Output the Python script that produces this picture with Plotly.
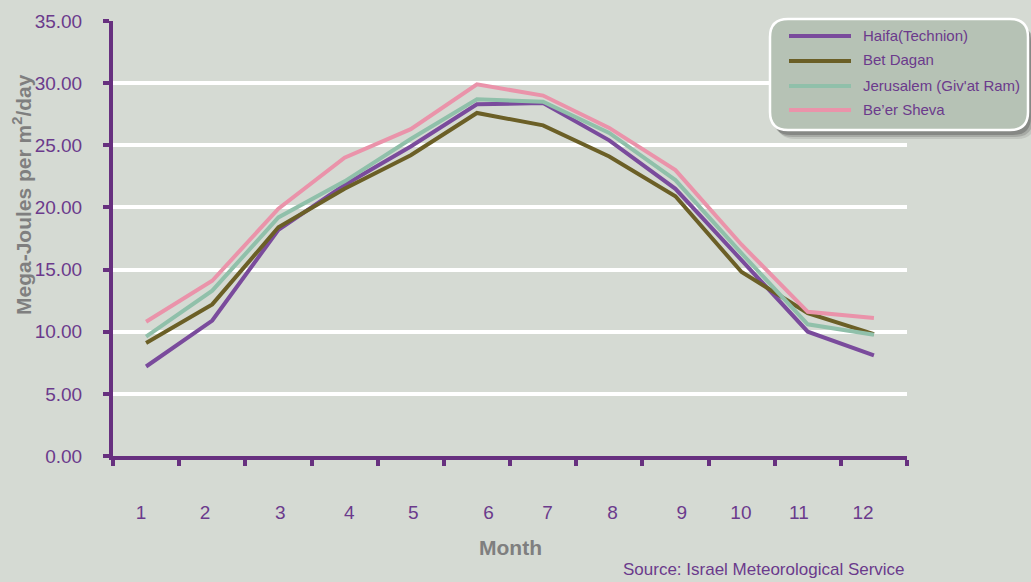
import plotly.graph_objects as go

months = list(range(1, 13))
month_labels = [str(m) for m in months]
series_names = ["Haifa(Technion)", "Bet Dagan", "Jerusalem (Giv'at Ram)", "Be\u2019er Sheva"]
haifa = [7.2, 10.9, 18.2, 21.8, 24.9, 28.3, 28.4, 25.4, 21.5, 15.7, 10.0, 8.1]
bet_dagan = [9.1, 12.2, 18.4, 21.5, 24.2, 27.6, 26.6, 24.1, 20.9, 14.8, 11.5, 9.8]
jerusalem = [9.6, 13.3, 19.2, 22.1, 25.5, 28.7, 28.5, 26.0, 22.2, 16.3, 10.6, 9.75]
beer_sheva = [10.8, 14.1, 19.9, 24.0, 26.3, 29.9, 29.0, 26.4, 23.0, 17.0, 11.6, 11.1]
series_values = [haifa, bet_dagan, jerusalem, beer_sheva]
colors = ["#7a4b9c", "#6b5f26", "#90c0aa", "#ea93aa"]
y_ticks = [0, 5, 10, 15, 20, 25, 30, 35]
# month tick labels sit slightly off the category centres in the original
label_pos = [0.924, 1.892, 3.027, 4.071, 5.04, 6.175, 7.068, 8.05, 9.096, 9.99, 10.866, 11.835]

W, H = 1031, 582
L, R, T, B = 113, 124, 21, 126
PW, PH = W - L - R, H - T - B
BG = "#d5dad3"
PURPLE = "#67307f"
TXT_PURPLE = "#6b3a8c"
GRAY = "#7f7f7f"
SANS = "Liberation Sans, Arial, sans-serif"


def px(x):
    return (x - L) / PW


def py(y):
    return (T + PH - y) / PH


fig = go.Figure()
for name, vals, col in zip(series_names, series_values, colors):
    fig.add_trace(go.Scatter(x=months, y=vals, mode="lines", name=name,
                             line=dict(color=col, width=4), showlegend=False))


def rounded_rect(x0, y0, x1, y1, r):
    def P(x, y):
        return f"{px(x):.5f},{py(y):.5f}"
    return (f"M {P(x0 + r, y0)} L {P(x1 - r, y0)} Q {P(x1, y0)} {P(x1, y0 + r)} "
            f"L {P(x1, y1 - r)} Q {P(x1, y1)} {P(x1 - r, y1)} "
            f"L {P(x0 + r, y1)} Q {P(x0, y1)} {P(x0, y1 - r)} "
            f"L {P(x0, y0 + r)} Q {P(x0, y0)} {P(x0 + r, y0)} Z")


shapes = []
# legend shadow (soft, layered)
for off, alpha in [(9, 0.12), (7, 0.2), (5, 0.3)]:
    shapes.append(dict(type="path", xref="paper", yref="paper", layer="above",
                       path=rounded_rect(770 + off - 2, 19 + off, 1028 + off - 2, 130 + off, 18),
                       fillcolor=f"rgba(60,60,60,{alpha})", line=dict(width=0)))
# legend box
shapes.append(dict(type="path", xref="paper", yref="paper", layer="above",
                   path=rounded_rect(770, 19, 1028, 130, 18),
                   fillcolor="#b6c2b5", line=dict(color="white", width=2.5)))

annotations = []
row_y = [35, 60, 85, 109]
for name, col, yy in zip(series_names, colors, row_y):
    shapes.append(dict(type="line", xref="paper", yref="paper", layer="above",
                       x0=px(789), x1=px(851), y0=py(yy + 1), y1=py(yy + 1),
                       line=dict(color=col, width=4)))
    annotations.append(dict(text=name, x=px(861), y=py(yy), xref="paper", yref="paper",
                            xanchor="left", yanchor="middle", showarrow=False,
                            font=dict(family=SANS, size=15, color=TXT_PURPLE)))

annotations.append(dict(text="Mega-Joules per m<sup>2</sup>/day", textangle=-90,
                        x=px(22), y=py(195), xref="paper", yref="paper",
                        xanchor="center", yanchor="middle", showarrow=False,
                        font=dict(family=SANS, size=21, color=GRAY, weight="bold")))
annotations.append(dict(text="Month", x=px(510), y=py(547), xref="paper", yref="paper",
                        xanchor="center", yanchor="middle", showarrow=False,
                        font=dict(family=SANS, size=21, color=GRAY, weight="bold")))
annotations.append(dict(text="Source: Israel Meteorological Service", x=px(907), y=py(569),
                        xref="paper", yref="paper", xanchor="right", yanchor="middle",
                        showarrow=False,
                        font=dict(family=SANS, size=17, color=TXT_PURPLE)))

fig.update_layout(
    width=W, height=H,
    margin=dict(l=L, r=R, t=T, b=B, pad=0),
    paper_bgcolor=BG, plot_bgcolor=BG,
    showlegend=False,
    shapes=shapes, annotations=annotations,
    xaxis=dict(range=[0.5, 12.5], tickmode="array", tickvals=label_pos, ticktext=month_labels,
               ticks="", showgrid=False, zeroline=False,
               showline=True, linecolor=PURPLE, linewidth=4,
               tickfont=dict(family=SANS, size=19, color=TXT_PURPLE),
               ticklabelstandoff=36,
               minor=dict(tick0=0.5, dtick=1, ticks="outside", ticklen=6, tickwidth=4,
                          tickcolor=PURPLE, showgrid=False)),
    yaxis=dict(range=[0, 35], tickmode="array", tickvals=y_ticks,
               ticktext=[f"{v:.2f}" for v in y_ticks],
               ticks="outside", ticklen=6, tickwidth=4, tickcolor=PURPLE,
               showgrid=True, gridcolor="white", gridwidth=4, zeroline=False,
               showline=True, linecolor=PURPLE, linewidth=4,
               tickfont=dict(family=SANS, size=19, color=TXT_PURPLE),
               ticklabelstandoff=17),
)

fig.write_html("out.html", config={"displayModeBar": False},
               post_script="document.body.style.margin='0';document.body.style.overflow='hidden';")
